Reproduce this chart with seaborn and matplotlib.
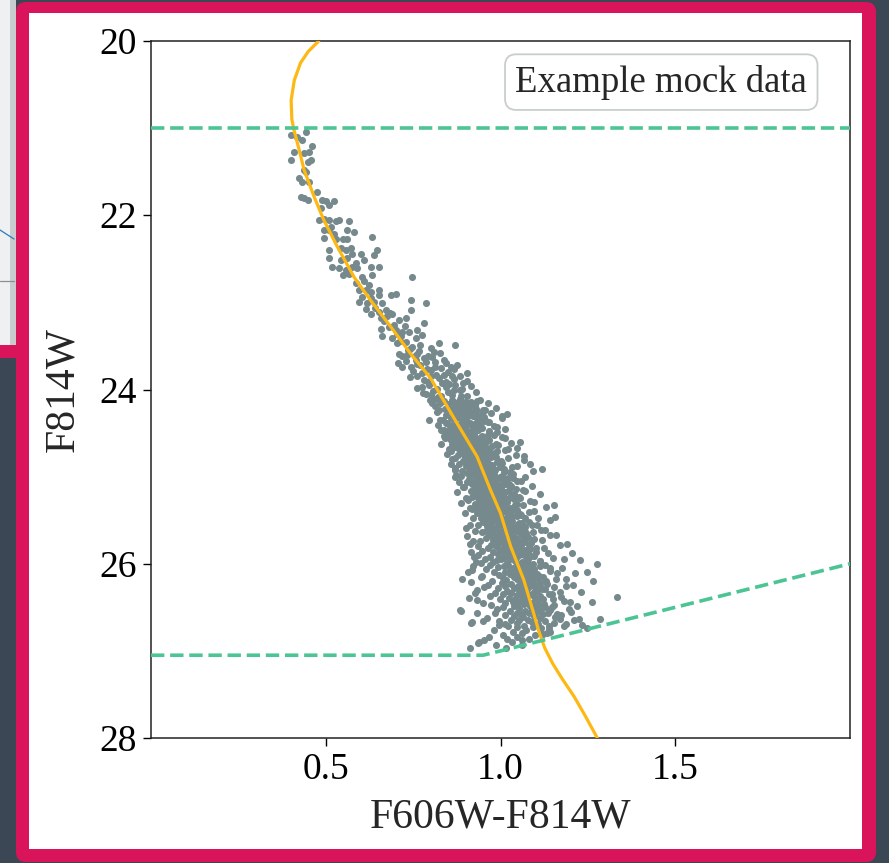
import matplotlib
matplotlib.use("Agg")
import matplotlib.pyplot as plt
from matplotlib.patches import Rectangle, FancyBboxPatch
from matplotlib.lines import Line2D
from matplotlib.transforms import Affine2D
import numpy as np
import pandas as pd
import seaborn as sns

# ---------------------------------------------------------------- data
# Isochrone track (colour, magnitude)
iso_color = [0.480, 0.450, 0.428, 0.410, 0.401, 0.403, 0.409, 0.424, 0.438, 0.467,
             0.495, 0.533, 0.581, 0.629, 0.686, 0.743, 0.800, 0.876, 0.933, 0.971,
             1.000, 1.029, 1.067, 1.095, 1.110, 1.127, 1.150, 1.178, 1.210, 1.243, 1.277]
iso_mag = [20.00, 20.12, 20.25, 20.45, 20.68, 20.90, 21.02, 21.25, 21.48, 21.79,
           22.06, 22.36, 22.71, 22.98, 23.28, 23.59, 23.87, 24.39, 24.77, 25.15,
           25.42, 25.80, 26.19, 26.57, 26.78, 26.97, 27.15, 27.33, 27.52, 27.75, 28.00]

# Selection limits
bright_color = [0.0, 2.0]
bright_mag = [21.0, 21.0]
faint_color = [0.0, 0.95, 2.0]
faint_mag = [27.05, 27.05, 26.0]

# Mock stars, upper main sequence
b1_col = [0.400, 0.419, 0.443, 0.433, 0.462, 0.438, 0.410, 0.452, 0.400, 0.448, 0.457, 0.438,
          0.443, 0.424, 0.433, 0.452, 0.429, 0.438, 0.448, 0.476, 0.490, 0.500, 0.524, 0.510]
b1_mag = [21.08, 21.10, 21.04, 21.14, 21.21, 21.29, 21.27, 21.27, 21.37, 21.39, 21.37, 21.48,
          21.50, 21.57, 21.62, 21.62, 21.79, 21.80, 21.83, 21.73, 21.83, 21.84, 21.84, 21.88]
b2_col = [0.486, 0.481, 0.495, 0.510, 0.514, 0.529, 0.538, 0.567, 0.495, 0.510, 0.524, 0.562,
          0.581, 0.495, 0.529, 0.548, 0.562, 0.633]
b2_mag = [21.92, 22.06, 22.04, 22.06, 22.13, 22.07, 22.06, 22.07, 22.17, 22.17, 22.21, 22.17,
          22.19, 22.26, 22.27, 22.27, 22.27, 22.25]
b3_col = [0.510, 0.543, 0.557, 0.571, 0.576, 0.600, 0.648, 0.638, 0.510, 0.543, 0.562, 0.586,
          0.610, 0.519, 0.538, 0.557, 0.576, 0.590, 0.629, 0.652, 0.548, 0.567, 0.605, 0.633, 0.748]
b3_mag = [22.40, 22.38, 22.40, 22.38, 22.44, 22.44, 22.40, 22.46, 22.49, 22.51, 22.49, 22.55,
          22.51, 22.59, 22.61, 22.63, 22.59, 22.61, 22.59, 22.59, 22.69, 22.67, 22.71, 22.69, 22.71]
b4_col = [0.586, 0.610, 0.624, 0.595, 0.614, 0.629, 0.652, 0.605, 0.629, 0.595, 0.619, 0.638,
          0.662, 0.686, 0.700, 0.743, 0.786, 0.743, 0.642, 0.615, 0.651]
b4_mag = [22.78, 22.76, 22.80, 22.86, 22.86, 22.88, 22.86, 22.94, 22.95, 22.99, 23.01, 22.99,
          23.01, 22.92, 22.90, 22.97, 23.01, 23.09, 23.06, 23.08, 22.92]
b5_col = [0.629, 0.652, 0.671, 0.657, 0.676, 0.690, 0.710, 0.729, 0.657, 0.681, 0.700, 0.719,
          0.738, 0.762, 0.781, 0.662, 0.690, 0.714, 0.757, 0.776, 0.667, 0.694, 0.705, 0.684, 0.728]
b5_mag = [23.13, 23.11, 23.09, 23.18, 23.16, 23.13, 23.20, 23.18, 23.30, 23.28, 23.32, 23.34,
          23.34, 23.32, 23.24, 23.39, 23.41, 23.39, 23.41, 23.38, 23.21, 23.26, 23.36, 23.12, 23.27]
b6_col = [0.705, 0.729, 0.748, 0.771, 0.824, 0.871, 0.710, 0.733, 0.762, 0.781, 0.810, 0.719,
          0.743, 0.771, 0.790, 0.838, 0.857, 0.876, 0.905, 0.814, 0.712, 0.741, 0.768, 0.754,
          0.729, 0.787, 0.762, 0.801, 0.776, 0.749, 0.758, 0.735, 0.719, 0.803]
b6_mag = [23.47, 23.45, 23.51, 23.49, 23.47, 23.49, 23.59, 23.60, 23.59, 23.64, 23.57, 23.74,
          23.74, 23.72, 23.76, 23.66, 23.74, 23.72, 23.81, 23.74, 23.44, 23.53, 23.56, 23.62,
          23.67, 23.69, 23.71, 23.78, 23.81, 23.79, 23.66, 23.55, 23.62, 23.63]
b7_col = [0.762, 0.781, 0.800, 0.824, 0.838, 0.862, 0.776, 0.795, 0.819, 0.843, 0.871, 0.890,
          0.800, 0.829, 0.862, 0.886, 0.815, 0.792, 0.833, 0.807, 0.851, 0.786, 0.821, 0.843,
          0.868, 0.892]
b7_mag = [23.85, 23.89, 23.85, 23.87, 23.83, 23.85, 23.97, 23.95, 23.99, 23.97, 23.95, 23.99,
          24.06, 24.08, 24.06, 24.08, 23.83, 23.91, 23.93, 24.02, 24.03, 24.05, 24.09, 23.91,
          24.01, 23.93]
b67_wide_mag = [23.52, 23.58, 23.61, 23.68, 23.70, 23.75, 23.77, 23.80, 23.84, 23.88,
                23.90, 23.94, 23.96, 24.00, 24.03, 24.07, 24.04, 23.86, 23.70, 23.98]
b67_wide_col = [0.801, 0.826, 0.792, 0.812, 0.845, 0.829, 0.868, 0.851, 0.884, 0.866,
                0.903, 0.852, 0.917, 0.884, 0.931, 0.903, 0.779, 0.741, 0.708, 0.761]

# Mock stars, lower main sequence: two stars per magnitude step (col_a, col_b) plus extras
b8_mag = [24.11, 24.12, 24.13, 24.14, 24.15, 24.16, 24.17, 24.18, 24.19, 24.20,
          24.21, 24.22, 24.23, 24.24, 24.25, 24.26, 24.27, 24.28, 24.29, 24.30,
          24.31, 24.32, 24.33, 24.34, 24.35, 24.36, 24.37, 24.38, 24.39, 24.40,
          24.41, 24.42, 24.43, 24.44, 24.45, 24.46, 24.47, 24.48, 24.49, 24.50]
b8_col_a = [0.812, 0.861, 0.838, 0.899, 0.873, 0.826, 0.912, 0.851, 0.869, 0.887,
            0.868, 0.842, 0.955, 0.823, 0.897, 0.874, 0.864, 1.019, 0.843, 0.921,
            0.881, 0.905, 0.859, 0.941, 0.836, 0.892, 0.968, 0.913, 0.846, 0.884,
            0.822, 0.871, 0.989, 0.856, 0.879, 0.838, 0.893, 0.868, 0.911, 0.853]
b8_col_b = [0.883, 0.799, 0.934, 0.867, 0.901, 0.879, 0.851, 0.896, 0.812, 0.874,
            0.907, 0.931, 0.861, 0.902, 0.873, 0.917, 0.887, 0.947, 0.916, 1.004,
            0.884, 0.931, 0.895, 0.871, 0.827, 0.902, 0.963, 0.889, 0.845, 0.917,
            0.861, 0.902, 0.878, 0.924, 0.891, 0.866, 0.935, 0.903, 0.872, 0.889]
b8_extra_mag = [24.16, 24.23, 24.29, 24.37, 24.44, 24.48,
                24.12, 24.15, 24.18, 24.21, 24.24, 24.27, 24.30, 24.33, 24.36, 24.39,
                24.42, 24.45, 24.48, 24.14, 24.19, 24.25, 24.32, 24.38, 24.44, 24.49,
                24.16, 24.26, 24.35, 24.46, 24.22, 24.41]
b8_extra_col = [0.906, 0.856, 0.878, 0.895, 0.948, 0.915,
                0.941, 0.963, 0.926, 0.988, 0.949, 0.972, 0.935, 1.003, 0.958, 0.944,
                0.981, 1.012, 0.967, 0.917, 0.924, 0.931, 0.952, 0.929, 0.938, 0.991,
                0.803, 0.817, 0.794, 0.829, 0.906, 0.919]

b9_mag = [24.51, 24.52, 24.53, 24.54, 24.55, 24.56, 24.57, 24.58, 24.59, 24.60,
          24.61, 24.62, 24.63, 24.64, 24.65, 24.66, 24.67, 24.68, 24.69, 24.70,
          24.71, 24.72, 24.73, 24.74, 24.75, 24.76, 24.77, 24.78, 24.79, 24.80,
          24.81, 24.82, 24.83, 24.84, 24.85, 24.86, 24.87, 24.88, 24.89, 24.90,
          24.91, 24.92, 24.93, 24.94, 24.95, 24.96, 24.97, 24.98, 24.99, 25.00]
b9_col_a = [0.874, 0.902, 0.887, 0.915, 0.868, 0.931, 0.882, 0.908, 0.893, 0.866,
            0.917, 0.941, 0.861, 0.912, 0.889, 0.923, 0.946, 0.882, 0.929, 0.897,
            0.859, 0.918, 0.891, 0.933, 0.877, 0.921, 0.944, 0.909, 0.935, 0.916,
            1.066, 0.893, 0.962, 0.938, 0.881, 0.953, 0.976, 0.902, 0.944, 0.926,
            1.119, 0.913, 0.948, 0.891, 0.927, 0.956, 0.939, 0.918, 0.965, 0.871]
b9_col_b = [0.923, 0.965, 0.839, 0.944, 0.897, 1.012, 0.856, 0.951, 0.927, 1.057,
            0.879, 0.903, 0.986, 0.934, 0.957, 0.871, 0.905, 1.021, 0.914, 0.968,
            0.938, 0.949, 0.974, 0.906, 1.043, 0.952, 0.898, 0.986, 0.871, 0.958,
            0.929, 0.947, 0.911, 1.004, 0.925, 0.914, 0.937, 0.961, 1.032, 0.871,
            0.957, 0.983, 0.935, 0.969, 1.011, 0.904, 0.982, 0.947, 0.887, 0.941]
b9_extra_mag = [24.51, 25.00, 24.57, 24.64, 24.72, 24.79, 24.86, 24.93,
                24.52, 24.55, 24.58, 24.61, 24.64, 24.67, 24.70, 24.73, 24.76, 24.79,
                24.82, 24.85, 24.88, 24.91, 24.94, 24.97, 25.00,
                24.53, 24.59, 24.65, 24.71, 24.77, 24.83, 24.89, 24.95, 24.99,
                24.56, 24.62, 24.68, 24.74, 24.80, 24.86, 24.92, 24.98,
                24.60, 24.75, 24.90]
b9_extra_col = [0.851, 0.998, 0.925, 0.897, 0.931, 0.952, 0.968, 0.977,
                0.981, 1.004, 0.967, 1.029, 0.993, 1.047, 1.012, 0.985, 1.068, 1.021,
                1.002, 1.083, 1.046, 1.011, 1.094, 1.036, 1.071,
                0.948, 0.961, 0.975, 0.989, 0.972, 0.991, 0.998, 1.027, 1.005,
                0.842, 0.831, 0.853, 0.847, 0.862, 0.858, 0.869, 0.873,
                0.944, 0.963, 0.979]

b10_mag = [25.01, 25.02, 25.03, 25.04, 25.05, 25.06, 25.07, 25.08, 25.09, 25.10,
           25.11, 25.12, 25.13, 25.14, 25.15, 25.16, 25.17, 25.18, 25.19, 25.20,
           25.21, 25.22, 25.23, 25.24, 25.25, 25.26, 25.27, 25.28, 25.29, 25.30,
           25.31, 25.32, 25.33, 25.34, 25.35, 25.36, 25.37, 25.38, 25.39, 25.40,
           25.41, 25.42, 25.43, 25.44, 25.45, 25.46, 25.47, 25.48, 25.49, 25.50]
b10_col_a = [0.934, 0.957, 0.911, 0.945, 0.927, 0.962, 0.979, 0.953, 0.918, 0.969,
             1.031, 0.895, 0.947, 0.984, 0.961, 0.939, 0.972, 1.014, 0.948, 0.929,
             0.967, 0.943, 0.982, 1.056, 0.935, 0.971, 0.952, 0.989, 0.962, 1.005,
             0.926, 0.958, 1.152, 0.946, 0.985, 1.027, 0.919, 0.955, 0.978, 0.941,
             0.988, 1.018, 0.971, 0.999, 1.034, 1.157, 0.992, 0.943, 0.977, 1.024]
b10_col_b = [0.982, 1.021, 0.968, 0.991, 1.047, 0.903, 0.941, 1.008, 0.986, 0.937,
             0.958, 0.975, 1.002, 0.926, 1.063, 0.993, 0.915, 0.956, 0.981, 1.039,
             0.992, 1.008, 0.919, 0.961, 0.998, 1.022, 0.908, 1.083, 0.941, 0.978,
             1.046, 0.993, 0.974, 1.013, 0.931, 0.969, 0.996, 1.041, 1.009, 1.097,
             0.962, 0.934, 1.055, 0.947, 0.981, 0.959, 1.016, 1.071, 1.003, 0.958]
b10_extra_mag = [25.07, 25.13, 25.19, 25.26, 25.33, 25.38, 25.44, 25.22, 25.11, 25.04, 25.29, 25.47,
                 25.02, 25.05, 25.08, 25.11, 25.14, 25.17, 25.20, 25.23, 25.26, 25.29,
                 25.32, 25.35, 25.38, 25.41, 25.44, 25.47, 25.50,
                 25.03, 25.09, 25.15, 25.21, 25.27, 25.33, 25.39, 25.45,
                 25.06, 25.12, 25.18, 25.24, 25.30, 25.36, 25.42, 25.48,
                 25.10, 25.25, 25.40]
b10_extra_col = [1.012, 0.983, 1.005, 0.948, 1.011, 0.986, 1.026, 0.973, 0.997, 0.963, 1.019, 0.995,
                 1.036, 1.058, 1.024, 1.089, 1.043, 1.071, 1.112, 1.052, 1.038, 1.097,
                 1.064, 1.129, 1.046, 1.081, 1.059, 1.108, 1.143,
                 1.004, 1.017, 1.023, 1.031, 1.009, 1.042, 1.028, 1.047,
                 0.882, 0.893, 0.876, 0.901, 0.887, 0.912, 0.897, 0.921,
                 1.003, 1.014, 1.022]

b11_mag = [25.51, 25.52, 25.53, 25.54, 25.55, 25.56, 25.57, 25.58, 25.59, 25.60,
           25.61, 25.62, 25.63, 25.64, 25.65, 25.66, 25.67, 25.68, 25.69, 25.70,
           25.71, 25.72, 25.73, 25.74, 25.75, 25.76, 25.77, 25.78, 25.79, 25.80,
           25.81, 25.82, 25.83, 25.84, 25.85, 25.86, 25.87, 25.88, 25.89, 25.90,
           25.91, 25.92, 25.93, 25.94, 25.95, 25.96, 25.97, 25.98, 25.99, 26.00]
b11_col_a = [0.987, 1.011, 1.062, 0.973, 1.046, 1.005, 0.962, 1.013, 0.900, 1.038,
             0.994, 1.019, 1.071, 0.946, 1.009, 1.058, 0.971, 1.036, 1.002, 0.959,
             1.044, 1.023, 0.978, 1.011, 1.067, 0.993, 0.914, 1.049, 1.016, 0.987,
             1.058, 0.963, 1.031, 1.072, 0.948, 1.006, 1.039, 1.204, 0.992, 1.053,
             1.012, 0.969, 1.045, 1.001, 1.076, 1.228, 1.041, 0.978, 1.019, 1.276]
b11_col_b = [1.034, 0.951, 0.998, 1.021, 0.935, 1.089, 1.027, 0.991, 1.052, 0.976,
             1.117, 0.958, 1.003, 1.031, 0.983, 1.024, 1.141, 0.997, 1.078, 1.017,
             0.988, 1.096, 1.035, 0.942, 1.004, 1.029, 1.190, 0.972, 1.082, 1.041,
             1.009, 1.124, 0.995, 1.018, 1.047, 1.103, 0.979, 1.021, 1.064, 0.936,
             1.087, 1.034, 1.151, 0.957, 1.026, 0.989, 1.113, 1.062, 0.944, 1.051]
b11_extra_mag = [25.55, 25.62, 25.68, 25.74, 25.79, 25.86, 25.93, 25.58, 25.71, 25.83, 25.97,
                 25.52, 25.55, 25.58, 25.61, 25.64, 25.67, 25.70, 25.73, 25.76, 25.79,
                 25.82, 25.85, 25.88, 25.91, 25.94, 25.97, 26.00,
                 25.53, 25.59, 25.65, 25.71, 25.77, 25.83, 25.89, 25.95,
                 25.56, 25.62, 25.68, 25.74, 25.80, 25.86, 25.92, 25.98,
                 25.60, 25.75, 25.90]
b11_extra_col = [1.026, 1.047, 1.063, 1.054, 1.037, 1.042, 1.008, 1.061, 1.032, 1.057, 1.076,
                 1.082, 1.104, 1.071, 1.128, 1.093, 1.159, 1.077, 1.118, 1.086, 1.171,
                 1.101, 1.079, 1.136, 1.097, 1.183, 1.112, 1.094,
                 1.052, 1.061, 1.073, 1.068, 1.056, 1.084, 1.071, 1.079,
                 0.912, 0.928, 0.905, 0.921, 0.937, 0.915, 0.923, 0.931,
                 1.048, 1.061, 1.066]

b12_mag = [26.01, 26.02, 26.03, 26.04, 26.05, 26.06, 26.07, 26.08, 26.09, 26.10,
           26.11, 26.12, 26.13, 26.14, 26.15, 26.16, 26.17, 26.18, 26.19, 26.20,
           26.21, 26.22, 26.23, 26.24, 26.25, 26.26, 26.27, 26.28, 26.29, 26.30,
           26.31, 26.32, 26.33, 26.34, 26.35, 26.36, 26.37, 26.38, 26.39, 26.40,
           26.41, 26.42, 26.43, 26.44, 26.45, 26.46, 26.47, 26.48, 26.49, 26.50]
b12_col_a = [1.022, 0.971, 1.114, 1.063, 1.036, 0.958, 0.919, 1.091, 1.247, 1.069,
             1.038, 1.104, 0.996, 1.055, 1.121, 1.071, 0.890, 1.046, 1.017, 1.131,
             1.058, 1.004, 1.074, 0.963, 1.049, 1.085, 1.152, 0.992, 1.076, 0.933,
             1.104, 1.067, 1.031, 1.092, 1.138, 1.046, 0.971, 1.333, 1.023, 1.149,
             1.076, 0.933, 1.057, 1.262, 1.089, 1.124, 0.974, 1.101, 1.038, 1.147]
b12_col_b = [1.087, 1.048, 1.009, 0.993, 1.142, 1.075, 1.028, 1.053, 1.012, 0.981,
             1.163, 1.027, 1.082, 0.947, 1.039, 1.008, 1.094, 1.186, 1.067, 0.976,
             1.083, 1.112, 1.029, 1.207, 1.098, 1.013, 1.061, 1.039, 1.127, 1.052,
             1.018, 1.171, 0.985, 1.059, 1.007, 1.081, 1.113, 1.064, 1.098, 1.041,
             0.998, 1.106, 1.182, 1.035, 1.012, 1.068, 1.047, 1.219, 1.083, 1.006]
b12_extra_mag = [26.04, 26.12, 26.19, 26.27, 26.35, 26.43, 26.08, 26.23,
                 26.02, 26.05, 26.08, 26.11, 26.14, 26.17, 26.20, 26.23, 26.26, 26.29,
                 26.32, 26.35, 26.38, 26.41, 26.44, 26.47, 26.50,
                 26.03, 26.09, 26.15, 26.21, 26.27, 26.33, 26.39, 26.45,
                 26.06, 26.16, 26.26, 26.36, 26.46, 26.13, 26.31]
b12_extra_col = [1.071, 1.056, 1.088, 1.079, 1.062, 1.073, 1.047, 1.095,
                 1.128, 1.176, 1.141, 1.213, 1.109, 1.158, 1.264, 1.133, 1.187, 1.118,
                 1.229, 1.146, 1.173, 1.121, 1.198, 1.154, 1.126,
                 0.921, 0.908, 0.943, 0.915, 0.952, 0.927, 0.911, 0.949,
                 1.096, 1.104, 1.112, 1.093, 1.108, 1.087, 1.099]

b13_mag = [26.51, 26.52, 26.53, 26.54, 26.55, 26.56, 26.57, 26.58, 26.59, 26.60,
           26.61, 26.62, 26.63, 26.64, 26.65, 26.66, 26.67, 26.68, 26.69, 26.70,
           26.71, 26.72, 26.73, 26.74]
b13_col_a = [1.053, 1.089, 0.885, 1.071, 1.203, 1.046, 0.985, 1.121, 1.013, 1.097,
             1.064, 0.962, 1.285, 1.078, 1.209, 1.126, 0.919, 1.047, 1.107, 1.233,
             1.066, 1.021, 1.093, 1.247]
b13_col_b = [1.117, 0.991, 1.142, 1.028, 1.104, 1.136, 1.082, 1.059, 1.174, 1.038,
             1.156, 1.113, 1.171, 1.029, 1.052, 0.997, 1.091, 1.152, 1.013, 0.995,
             1.138, 1.182, 1.048, 1.117]
b13_extra_mag = [26.76, 26.76, 26.78, 26.78, 26.80, 26.80, 26.82, 26.82, 26.84, 26.84,
                 26.86, 26.86, 26.88, 26.88, 26.90, 26.90, 26.93, 26.93, 26.97, 26.97,
                 26.91, 26.68, 26.54, 26.52, 26.58, 26.63, 26.69, 26.75, 26.81, 26.57, 26.66]
b13_extra_col = [1.074, 0.981, 1.035, 1.142, 1.133, 1.062, 1.100, 1.008, 1.047, 0.967,
                 1.019, 1.081, 1.061, 0.953, 0.938, 1.034, 0.988, 1.062, 0.914, 1.016,
                 0.937, 0.916, 0.886, 1.196, 1.163, 1.224, 1.186, 1.139, 1.121, 0.932, 0.951]

legend_label = "Example mock data"
x_label = "F606W-F814W"
y_label = "F814W"
x_ticks = [0.5, 1.0, 1.5]
y_ticks = [20, 22, 24, 26, 28]

# ---------------------------------------------------------------- assemble stars
col_parts, mag_parts = [], []
for c, m in [(b1_col, b1_mag), (b2_col, b2_mag), (b3_col, b3_mag), (b4_col, b4_mag),
             (b5_col, b5_mag), (b6_col, b6_mag), (b7_col, b7_mag),
             (b67_wide_col, b67_wide_mag)]:
    col_parts += c
    mag_parts += m
for mags, ca, cb, em, ec in [
        (b8_mag, b8_col_a, b8_col_b, b8_extra_mag, b8_extra_col),
        (b9_mag, b9_col_a, b9_col_b, b9_extra_mag, b9_extra_col),
        (b10_mag, b10_col_a, b10_col_b, b10_extra_mag, b10_extra_col),
        (b11_mag, b11_col_a, b11_col_b, b11_extra_mag, b11_extra_col),
        (b12_mag, b12_col_a, b12_col_b, b12_extra_mag, b12_extra_col),
        (b13_mag, b13_col_a, b13_col_b, b13_extra_mag, b13_extra_col)]:
    col_parts += ca + cb + ec
    mag_parts += mags + mags + em
stars = pd.DataFrame({"color": col_parts, "mag": mag_parts})
iso = pd.DataFrame({"color": iso_color, "mag": iso_mag})
faint = pd.DataFrame({"color": faint_color, "mag": faint_mag})
bright = pd.DataFrame({"color": bright_color, "mag": bright_mag})

# ---------------------------------------------------------------- figure
sns.set_style("ticks")
plt.rcParams["font.family"] = ["Liberation Serif", "DejaVu Serif"]

W, H = 889, 863
fig = plt.figure(figsize=(W / 100, H / 100), dpi=100)
fig.patch.set_facecolor("#3b4754")

px = Affine2D().scale(1, -1).translate(0, H)  # pixel coordinates from the top-left


def rect(x0, y0, x1, y1, color, z=-10):
    fig.add_artist(Rectangle((x0, y0), x1 - x0, y1 - y0, transform=px,
                             facecolor=color, edgecolor="none", zorder=z))


# card lying behind on the left
rect(0, 0, 16, 345, "#eef0f1", -12)
rect(10, 0, 16, 345, "#c9ccce", -12)
rect(0, 345, 16, 358, "#d9145a", -12)
fig.add_artist(Line2D([0, 14], [230, 239], transform=px, color="#2b7bbd", lw=0.9, zorder=-11))
fig.add_artist(Line2D([0, 14], [281, 281], transform=px, color="#8c8f92", lw=0.9, zorder=-11))

# main card
fig.add_artist(FancyBboxPatch((16, 2), 860, 860, boxstyle="round,pad=0,rounding_size=10",
                              transform=px, facecolor="#d9145a", edgecolor="none", zorder=-9))
rect(29, 13, 862, 849, "white", -8)

ax = fig.add_axes([151 / W, 1 - 738 / H, (850 - 151) / W, (738 - 41) / H])
ax.set_facecolor("white")

sns.scatterplot(data=stars, x="color", y="mag", color="#768a8d", s=26, linewidth=0,
                ax=ax, zorder=2, legend=False)
sns.lineplot(data=iso, x="color", y="mag", sort=False, estimator=None, color="#fdb813",
             lw=2.3, ax=ax, zorder=3)
for sel in (bright, faint):
    sns.lineplot(data=sel, x="color", y="mag", sort=False, estimator=None,
                 color="#4cc493", lw=2.6, linestyle="--", ax=ax, zorder=4)

ax.set_xlim(0, 2)
ax.set_ylim(28, 20)
ax.set_xticks(x_ticks)
ax.set_yticks(y_ticks)
ax.set_xlabel(x_label, fontsize=30, labelpad=8)
ax.set_ylabel(y_label, fontsize=30, labelpad=12)
ax.tick_params(direction="out", length=5.5, width=1, colors="black", labelsize=27, pad=5)
for s in ax.spines.values():
    s.set_color("#222222")
    s.set_linewidth(1.1)

ax.text(0.73, 0.941, legend_label, transform=ax.transAxes, fontsize=26.5,
        ha="center", va="center", zorder=6,
        bbox=dict(boxstyle="round,pad=0.28,rounding_size=0.3", facecolor="white",
                  edgecolor="#c8cdcd", linewidth=1.3))

fig.savefig("out.png", dpi=100, facecolor=fig.get_facecolor())
